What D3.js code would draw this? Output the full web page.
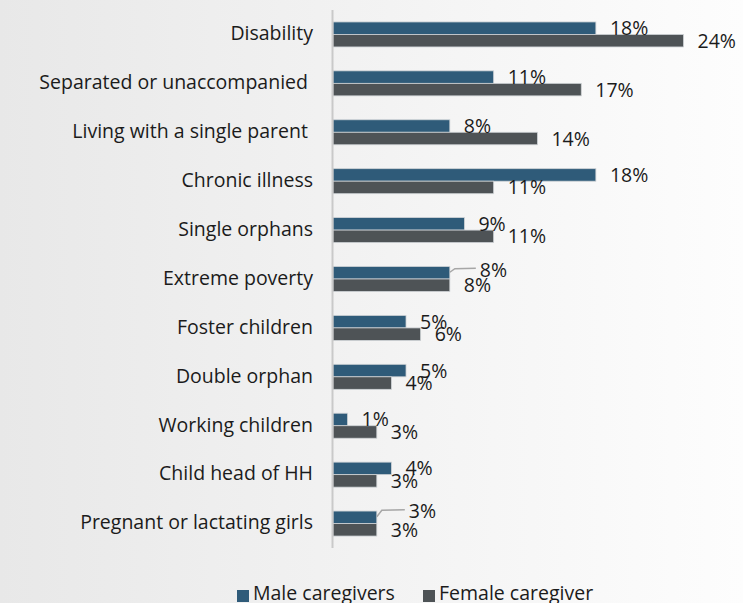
<!DOCTYPE html>
<html>
<head>
<meta charset="utf-8">
<script src="https://cdn.jsdelivr.net/npm/d3@7"></script>
<style>
  html, body { margin: 0; padding: 0; }
  body { width: 743px; height: 603px; overflow: hidden; }
  svg text { font-family: "Open Sans", "Noto Sans", sans-serif; fill: #1b1b1b; white-space: pre; }
</style>
</head>
<body>
<svg id="chart" width="743" height="603"></svg>
<script>
// Categories, top to bottom (trailing spaces are part of the original labels)
const categories = [
  "Disability",
  "Separated or unaccompanied ",
  "Living with a single parent ",
  "Chronic illness",
  "Single orphans",
  "Extreme poverty",
  "Foster children",
  "Double orphan",
  "Working children",
  "Child head of HH",
  "Pregnant or lactating girls"
];
// Share of children in each group, percent
const maleCaregivers   = [18, 11, 8, 18, 9, 8, 5, 5, 1, 4, 3];
const femaleCaregivers = [24, 17, 14, 11, 11, 8, 6, 4, 3, 3, 3];
const seriesNames = ["Male caregivers", "Female caregiver"];

const colors = { male: "#2f5b79", female: "#4e5356" };
const fontSize = 19.5;

const svg = d3.select("#chart");

// Soft horizontal background gradient
const defs = svg.append("defs");
const grad = defs.append("linearGradient").attr("id", "bg").attr("x1", "0").attr("x2", "1").attr("y1", "0").attr("y2", "0");
grad.append("stop").attr("offset", "0").attr("stop-color", "#e8e8e8");
grad.append("stop").attr("offset", "1").attr("stop-color", "#fdfdfd");
svg.append("rect").attr("width", 743).attr("height", 603).attr("fill", "url(#bg)");

const x = d3.scaleLinear().domain([0, 24]).range([333, 683.5]);
const y = d3.scaleBand().domain(categories).range([10, 548]);
const groupH = 25;
const sub = d3.scaleBand().domain(["male", "female"])
  .range([(y.bandwidth() - groupH) / 2, (y.bandwidth() + groupH) / 2]);

const rows = categories.map((c, i) => ({ cat: c, male: maleCaregivers[i], female: femaleCaregivers[i] }));

// Category axis (left)
const yAxis = d3.axisLeft(y).tickSize(0).tickPadding(20);
const gy = svg.append("g").attr("transform", `translate(${x(0)},0)`).call(yAxis);
gy.select(".domain").remove();
gy.selectAll("text").attr("font-size", fontSize).attr("font-family", null).attr("fill", "#1b1b1b").attr("dy", "0.3em");

// Bars
const keys = ["male", "female"];
const g = svg.append("g");
rows.forEach(r => {
  keys.forEach(k => {
    g.append("rect")
      .attr("x", x(0))
      .attr("y", y(r.cat) + sub(k))
      .attr("width", x(r[k]) - x(0))
      .attr("height", sub.bandwidth())
      .attr("fill", colors[k])
      .attr("stroke", "#cfd3d6")
      .attr("stroke-width", 0.8);
  });
});

// Axis line over the bar starts
svg.append("line")
  .attr("x1", x(0) - 0.5).attr("x2", x(0) - 0.5)
  .attr("y1", 10).attr("y2", 548)
  .attr("stroke", "#c9c9c9").attr("stroke-width", 2);

// Labels that were pulled aside, with leader lines back to the bar end
const nudges = {
  "Extreme poverty|male": { dx: 16, dy: -3 },
  "Pregnant or lactating girls|male": { dx: 18, dy: -6 }
};

rows.forEach(r => {
  keys.forEach(k => {
    const xe = x(r[k]);
    const yc = y(r.cat) + sub(k) + sub.bandwidth() / 2;
    const n = nudges[r.cat + "|" + k] || { dx: 0, dy: 0 };
    if (n.dx) {
      svg.append("path")
        .attr("d", `M${xe},${yc - 0.5} L${xe + 5},${yc + n.dy - 1} L${xe + n.dx + 10},${yc + n.dy - 1.5}`)
        .attr("fill", "none").attr("stroke", "#a6a6a6").attr("stroke-width", 1.5);
    }
    svg.append("text")
      .attr("x", xe + 14 + n.dx)
      .attr("y", yc + n.dy)
      .attr("dy", "0.36em")
      .attr("font-size", fontSize)
      .text(r[k] + "%");
  });
});

// Legend
const legend = svg.append("g");
const legendItems = [
  { name: seriesNames[0], color: colors.male, x: 237 },
  { name: seriesNames[1], color: colors.female, x: 423 }
];
legendItems.forEach(d => {
  legend.append("rect").attr("x", d.x).attr("y", 590).attr("width", 12).attr("height", 12).attr("fill", d.color);
  legend.append("text").attr("x", d.x + 16).attr("y", 600).attr("font-size", fontSize).text(d.name);
});
</script>
</body>
</html>
